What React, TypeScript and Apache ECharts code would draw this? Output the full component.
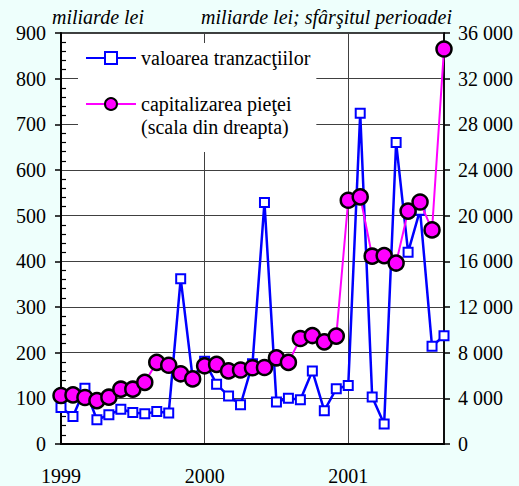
import React, { useEffect, useRef } from "react";
import * as echarts from "echarts";

const categories = [
  "1999-01", "1999-02", "1999-03", "1999-04", "1999-05", "1999-06",
  "1999-07", "1999-08", "1999-09", "1999-10", "1999-11", "1999-12",
  "2000-01", "2000-02", "2000-03", "2000-04", "2000-05", "2000-06",
  "2000-07", "2000-08", "2000-09", "2000-10", "2000-11", "2000-12",
  "2001-01", "2001-02", "2001-03", "2001-04", "2001-05", "2001-06",
  "2001-07", "2001-08", "2001-09",
];

// valoarea tranzacţiilor, miliarde lei (left axis)
const tradeValue = [
  80, 60, 122, 53, 64, 76, 69, 66, 71, 68, 362, 145,
  181, 131, 105, 86, 176, 529, 92, 100, 97, 160, 73, 121,
  128, 724, 103, 44, 660, 420, 512, 214, 237,
];

// capitalizarea pieţei, miliarde lei, sfârşitul perioadei (right axis)
const marketCap = [
  4250, 4300, 4070, 3800, 4100, 4800, 4800, 5400, 7150, 6900, 6150, 5700,
  6850, 6970, 6400, 6480, 6680, 6700, 7550, 7150, 9240, 9500, 8950, 9450,
  21350, 21650, 16450, 16500, 15850, 20400, 21200, 18750, 34600,
];

const seriesNames = ["valoarea tranzacţiilor", "capitalizarea pieţei"];
const legendExtraLine = "(scala din dreapta)";
const leftTitle = "miliarde lei";
const rightTitle = "miliarde lei; sfârşitul perioadei";

const FONT = "Liberation Serif";
const FS = 20;
const BG = "#eefffc";

export default function App() {
  const ref = useRef<HTMLDivElement>(null);

  useEffect(() => {
    if (!ref.current) return;
    const chart = echarts.init(ref.current, undefined, { renderer: "svg" });
    const gridColor = "#404040";
    chart.setOption({
      animation: false,
      backgroundColor: BG,
      textStyle: { fontFamily: FONT },
      title: [
        {
          text: leftTitle,
          left: 52,
          top: 7,
          padding: 0,
          textStyle: { fontFamily: FONT, fontSize: FS, fontStyle: "italic", fontWeight: "normal", color: "#000" },
        },
        {
          text: rightTitle,
          right: 67,
          top: 7,
          padding: 0,
          textStyle: { fontFamily: FONT, fontSize: FS, fontStyle: "italic", fontWeight: "normal", color: "#000" },
        },
      ],
      legend: {
        orient: "vertical",
        left: 78,
        top: 43,
        padding: [5, 6, 38, 7],
        itemGap: 26,
        itemWidth: 50,
        itemHeight: 15,
        backgroundColor: "#fff",
        data: seriesNames,
        textStyle: { fontFamily: FONT, fontSize: FS, color: "#000" },
      },
      graphic: [
        {
          type: "text",
          left: 141,
          top: 117,
          z: 10,
          style: { text: legendExtraLine, fontFamily: FONT, fontSize: FS, fill: "#000" },
        },
      ],
      grid: {
        left: 61,
        right: 75,
        top: 33,
        bottom: 40,
        show: true,
        backgroundColor: "#fff",
        borderColor: "#000",
        borderWidth: 1.5,
      },
      xAxis: {
        type: "category",
        data: categories,
        boundaryGap: false,
        axisLine: { lineStyle: { color: "#000", width: 2 } },
        axisTick: { show: false },
        axisLabel: {
          interval: (i: number) => i % 12 === 0,
          formatter: (v: string) => v.slice(0, 4),
          margin: 22,
          fontFamily: FONT,
          fontSize: FS,
          color: "#000",
        },
        splitLine: {
          show: true,
          interval: (i: number) => i % 12 === 0,
          lineStyle: { color: gridColor, width: 1 },
        },
      },
      yAxis: [
        {
          type: "value",
          position: "left",
          min: 0,
          max: 900,
          interval: 100,
          axisLine: { show: true, lineStyle: { color: "#000", width: 2 } },
          axisTick: { show: true, length: 6, lineStyle: { color: "#000", width: 1.5 } },
          axisLabel: { margin: 15, fontFamily: FONT, fontSize: FS, color: "#000" },
          splitLine: { show: true, lineStyle: { color: gridColor, width: 1 } },
        },
        {
          type: "value",
          position: "right",
          min: 0,
          max: 36000,
          interval: 4000,
          axisLine: { show: true, lineStyle: { color: "#000", width: 1.5 } },
          axisTick: { show: true, length: 6, lineStyle: { color: "#000", width: 1.5 } },
          axisLabel: {
            margin: 14,
            fontFamily: FONT,
            fontSize: FS,
            color: "#000",
            formatter: (v: number) => String(v).replace(/\B(?=(\d{3})+(?!\d))/g, " "),
          },
          splitLine: { show: false },
        },
        {
          type: "value",
          position: "left",
          offset: 0,
          min: 0,
          max: 900,
          interval: 100,
          axisLine: { show: false },
          axisTick: { show: false, inside: true },
          minorTick: { show: true, splitNumber: 5, length: 5, lineStyle: { color: "#000", width: 1.2 } },
          axisLabel: { show: false },
          splitLine: { show: false },
        },
      ],
      series: [
        {
          name: seriesNames[0],
          type: "line",
          yAxisIndex: 0,
          data: tradeValue,
          symbol: "rect",
          symbolSize: 9,
          showAllSymbol: true,
          lineStyle: { color: "#0000ff", width: 2.5 },
          itemStyle: { color: "#ffffff", borderColor: "#0000ff", borderWidth: 2 },
          z: 2,
        },
        {
          name: seriesNames[1],
          type: "line",
          yAxisIndex: 1,
          data: marketCap,
          symbol: "circle",
          symbolSize: 15,
          showAllSymbol: true,
          lineStyle: { color: "#ff00ff", width: 2 },
          itemStyle: { color: "#ff00ff", borderColor: "#000", borderWidth: 2.5 },
          z: 3,
        },
      ],
    });
    return () => chart.dispose();
  }, []);

  return (
    <div
      ref={ref}
      style={{ position: "fixed", left: 0, top: 0, width: 519, height: 486, background: BG }}
    />
  );
}
